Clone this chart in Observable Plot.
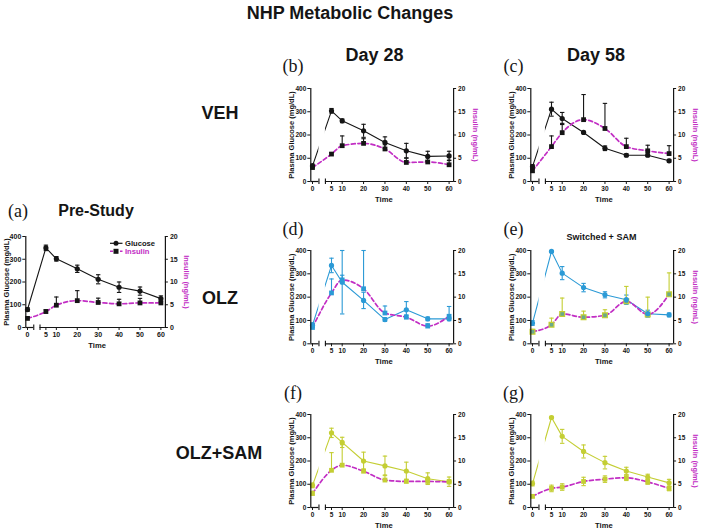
<!DOCTYPE html>
<html><head><meta charset="utf-8">
<script src="https://cdn.jsdelivr.net/npm/d3@7"></script>
<script src="https://cdn.jsdelivr.net/npm/@observablehq/plot@0.6"></script>
<style>
body{margin:0;background:#fff;}
#root{position:relative;width:701px;height:532px;overflow:hidden;font-family:"Liberation Sans",Arial,sans-serif;color:#151515;}
.lbl{position:absolute;white-space:nowrap;transform:translate(-50%,-50%);line-height:1;}
.b{font-weight:bold;}
.serif{font-family:"Liberation Serif","Times New Roman",serif;}
svg.pl{position:absolute;}
</style></head><body><div id="root"></div>
<script>
// ---- data ----
const times = [0, 5, 10, 20, 30, 40, 50, 60];
const glucoseTicks = [0, 100, 200, 300, 400];
const insulinTicks = [0, 5, 10, 15, 20];

// (a) Pre-Study
const preGlu    = [79, 350, 302, 258, 212, 177, 160, 127];
const preGluErr = [8, 12, 10, 16, 20, 23, 18, 12];
const preIns    = [2.0, 3.5, 4.9, 5.9, 5.5, 5.2, 5.4, 5.4];
const preInsErr = [0.3, 0.4, 1.8, 2.2, 0.95, 1.0, 1.0, 0.6];
// (b) VEH Day 28
const vehD28Glu    = [67, 304, 261, 218, 168, 132, 108, 110];
const vehD28GluErr = [8, 10, 8, 28, 24, 32, 22, 20];
const vehD28Ins    = [3.0, 5.9, 7.7, 8.2, 7.0, 4.1, 4.2, 3.6];
const vehD28InsErr = [0.4, 0.3, 2.1, 1.0, 0.9, 1.0, 0.3, 1.0];
// (c) VEH Day 58
const vehD58Glu    = [64, 311, 271, 211, 143, 113, 113, 89];
const vehD58GluErr = [8, 30, 26, 5, 10, 6, 6, 6];
const vehD58Ins    = [2.3, 7.5, 10.5, 13.3, 11.4, 7.5, 6.6, 6.0];
const vehD58InsErr = [0.4, 2.3, 2.0, 5.4, 5.4, 1.8, 1.2, 1.7];
// (d) OLZ Day 28
const olzD28Glu    = [80, 336, 264, 186, 104, 146, 107, 107];
const olzD28GluErr = [10, 31, 136, 35, 8, 35, 8, 8];
const olzD28Ins    = [3.5, 10.9, 13.7, 11.8, 6.6, 5.7, 3.8, 5.9];
const olzD28InsErr = [0.5, 3.0, 1.0, 8.2, 1.5, 0.5, 0.5, 2.1];
// (e) Switched + SAM Day 58
const swD58Glu    = [89, 396, 303, 241, 210, 189, 129, 124];
const swD58GluErr = [10, 4, 28, 18, 13, 20, 15, 8];
const swD58Ins    = [2.6, 4.1, 6.4, 5.7, 6.1, 9.1, 6.3, 10.6];
const swD58InsErr = [0.5, 1.4, 3.4, 1.3, 1.2, 3.2, 3.7, 4.6];
// (f) OLZ+SAM Day 28
const samD28Glu    = [95, 321, 280, 200, 179, 157, 124, 111];
const samD28GluErr = [10, 20, 22, 38, 42, 38, 25, 20];
const samD28Ins    = [3.0, 8.0, 9.1, 7.8, 5.9, 5.6, 5.6, 5.5];
const samD28InsErr = [0.5, 3.8, 4.4, 0.5, 1.1, 0.5, 0.5, 0.5];
// (g) OLZ+SAM Day 58
const samD58Glu    = [103, 387, 306, 241, 193, 157, 131, 106];
const samD58GluErr = [10, 5, 30, 28, 27, 16, 12, 15];
const samD58Ins    = [2.4, 4.1, 4.4, 5.6, 6.1, 6.4, 5.5, 4.1];
const samD58InsErr = [0.3, 0.7, 0.7, 0.9, 0.7, 0.6, 0.5, 0.5];

// ---- styles ----
const BLK = "#151515", MAG = "#c22ec4", BLUE = "#2b9ad6", YG = "#c4ce33", TEAL = "#6aa98c";
const FONT = "Liberation Sans, Arial, sans-serif";

const panels = [
  {x0:27.3, x5:45.7, x60:160.7, y0:327.3, y400:236.3, gap:false, glu:preGlu, gluErr:preGluErr, ins:preIns, insErr:preInsErr, gCol:BLK, iCol:BLK, iStroke:null, iErrCol:BLK, insBoth:false, rightLabel:true, fs:7},
  {x0:311.7, x5:330.7, x60:448.3, y0:180.7, y400:87.7, gap:true, glu:vehD28Glu, gluErr:vehD28GluErr, ins:vehD28Ins, insErr:vehD28InsErr, gCol:BLK, iCol:BLK, iStroke:null, iErrCol:BLK, insBoth:false, rightLabel:true, fs:6.5},
  {x0:531.7, x5:550.7, x60:668.3, y0:180.7, y400:87.7, gap:true, glu:vehD58Glu, gluErr:vehD58GluErr, ins:vehD58Ins, insErr:vehD58InsErr, gCol:BLK, iCol:BLK, iStroke:null, iErrCol:BLK, insBoth:false, rightLabel:true, fs:6.5},
  {x0:311.7, x5:330.7, x60:448.3, y0:343.3, y400:250, gap:true, glu:olzD28Glu, gluErr:olzD28GluErr, ins:olzD28Ins, insErr:olzD28InsErr, gCol:BLUE, iCol:BLUE, iStroke:null, iErrCol:BLUE, insBoth:false, rightLabel:false, fs:6.5},
  {x0:531.7, x5:550.7, x60:668.3, y0:343.3, y400:250, gap:true, glu:swD58Glu, gluErr:swD58GluErr, ins:swD58Ins, insErr:swD58InsErr, gCol:BLUE, iCol:TEAL, iStroke:YG, iErrCol:YG, insBoth:false, rightLabel:true, fs:6.5},
  {x0:311.7, x5:330.7, x60:448.3, y0:507.3, y400:414.3, gap:true, glu:samD28Glu, gluErr:samD28GluErr, ins:samD28Ins, insErr:samD28InsErr, gCol:YG, iCol:YG, iStroke:null, iErrCol:YG, insBoth:false, rightLabel:false, fs:6.5},
  {x0:531.7, x5:550.7, x60:668.3, y0:507.3, y400:414.3, gap:true, glu:samD58Glu, gluErr:samD58GluErr, ins:samD58Ins, insErr:samD58InsErr, gCol:YG, iCol:YG, iStroke:null, iErrCol:YG, insBoth:true, rightLabel:true, fs:6.5},
];

const root = document.getElementById("root");
const cap = {draw(ctx, size){ const r = Math.sqrt(size/Math.PI); ctx.moveTo(-r,0); ctx.lineTo(r,0); }};

function makePanel(p) {
  const left = 54, top = 12, W = 220, H = 135;
  const sx1 = (p.x5 - p.x0) / 5, sx2 = (p.x60 - p.x5) / 55, sy = (p.y0 - p.y400) / 400;
  const xAxisL = -1.7 / sx1, xAxisR = 60 + 4.5 / sx2;
  const brA = 1.7, brB = 3.4, tl = 3;
  const rows = times.map((t, k) => ({t, g: p.glu[k], ge: p.gluErr[k], i: p.ins[k] * 20, ie: p.insErr[k] * 20}));
  const txt = {fontSize: p.fs, fontWeight: "bold", fill: BLK, fontFamily: FONT};
  const marks = [
    Plot.line(rows, {x: "t", y: "g", stroke: p.gCol, strokeWidth: 1.1})
  ];
  if (p.gap) marks.push(Plot.rect([{a: brA, b: brB}], {x1: "a", x2: "b", y1: 2 / sy, y2: 405, fill: "white"}));
  marks.push(
    Plot.line(rows, {x: "t", y: "i", stroke: MAG, strokeWidth: 1.7, strokeDasharray: "4,2.6", curve: "monotone-x"}),
    // glucose error bars
    Plot.ruleX(rows, {x: "t", y1: d => d.g - d.ge, y2: d => d.g + d.ge, stroke: p.gCol, strokeWidth: 1.1}),
    Plot.dot(rows, {x: "t", y: d => d.g + d.ge, symbol: cap, r: 2.2, fill: "none", stroke: p.gCol, strokeWidth: 1.1}),
    Plot.dot(rows, {x: "t", y: d => d.g - d.ge, symbol: cap, r: 2.2, fill: "none", stroke: p.gCol, strokeWidth: 1.1}),
    // insulin error bars
    Plot.ruleX(rows, {x: "t", y1: d => p.insBoth ? d.i - d.ie : d.i, y2: d => d.i + d.ie, stroke: p.iErrCol, strokeWidth: 1.1}),
    Plot.dot(rows, {x: "t", y: d => d.i + d.ie, symbol: cap, r: 2.2, fill: "none", stroke: p.iErrCol, strokeWidth: 1.1}),
  );
  if (p.insBoth) marks.push(Plot.dot(rows, {x: "t", y: d => d.i - d.ie, symbol: cap, r: 2.2, fill: "none", stroke: p.iErrCol, strokeWidth: 1.1}));
  marks.push(
    Plot.dot(rows, {x: "t", y: "i", symbol: "square", r: 2.7, fill: p.iCol, stroke: p.iStroke || "none", strokeWidth: 1.2}),
    Plot.dot(rows, {x: "t", y: "g", r: 2.6, fill: p.gCol}),
    // axes
    Plot.ruleX([xAxisL, xAxisR], {x: d => d, y1: 0, y2: 400, stroke: BLK, strokeWidth: 1.2}),
    Plot.ruleY([{a: xAxisL, b: brA}, {a: brB, b: xAxisR}], {y: 0, x1: "a", x2: "b", stroke: BLK, strokeWidth: 1.2}),
    Plot.ruleX([brA, brB], {x: d => d, y1: -tl / sy, y2: 2.5 / sy, stroke: BLK, strokeWidth: 1.1}),
    Plot.ruleX(times, {x: d => d, y1: 0, y2: -tl / sy, stroke: BLK, strokeWidth: 1}),
    Plot.text(times, {x: d => d, y: 0, dy: tl + 4.2, text: d => String(d), ...txt}),
    Plot.ruleY(glucoseTicks, {y: d => d, x1: xAxisL, x2: xAxisL - tl / sx1, stroke: BLK, strokeWidth: 1}),
    Plot.text(glucoseTicks, {x: xAxisL, y: d => d, dx: -(tl + 1.5), textAnchor: "end", text: d => String(d), ...txt}),
    Plot.ruleY(insulinTicks, {y: d => d * 20, x1: xAxisR, x2: xAxisR + tl / sx2, stroke: BLK, strokeWidth: 1}),
    Plot.text(insulinTicks, {x: xAxisR, y: d => d * 20, dx: tl + 1.5, textAnchor: "start", text: d => String(d), ...txt}),
    Plot.text(["Time"], {x: 29.5, y: 0, dy: 17.6, text: d => d, ...txt, fontSize: 7.6}),
    Plot.text(["Plasma Glucose (mg/dL)"], {x: xAxisL, y: 200, dx: -19.5, rotate: -90, text: d => d, ...txt, fontSize: 7.5})
  );
  if (p.rightLabel) marks.push(Plot.text(["Insulin (ng/mL)"], {x: xAxisR, y: 200, dx: 21.5, rotate: 90, text: d => d, ...txt, fontSize: 7.5, fill: MAG}));
  const svg = Plot.plot({
    width: W, height: H,
    style: {background: "transparent", overflow: "visible", fontFamily: FONT},
    x: {type: "linear", domain: [0, 5, 60], range: [left, left + 5 * sx1, left + 5 * sx1 + 55 * sx2], axis: null},
    y: {type: "linear", domain: [0, 400], range: [top + 400 * sy, top], axis: null},
    marks
  });
  svg.classList.add("pl");
  svg.style.left = (p.x0 - left) + "px";
  svg.style.top = (p.y400 - top) + "px";
  svg.style.maxWidth = "none";
  root.appendChild(svg);
}
panels.forEach(makePanel);

// ---- text labels ----
function label(text, x, y, size, cls, color) {
  const d = document.createElement("div");
  d.className = "lbl " + cls;
  d.textContent = text;
  d.style.left = x + "px"; d.style.top = y + "px"; d.style.fontSize = size + "px";
  if (color) d.style.color = color;
  root.appendChild(d);
}
label("NHP Metabolic Changes", 350, 12.5, 18, "b");
label("Day 28", 374.5, 54.5, 18, "b");
label("Day 58", 596, 54.5, 18, "b");
label("(b)", 293, 66, 18, "serif");
label("(c)", 513.5, 66, 18, "serif");
label("(a)", 18, 211, 18, "serif");
label("Pre-Study", 96, 211, 16, "b");
label("(d)", 293, 229, 18, "serif");
label("(e)", 513.5, 229, 18, "serif");
label("Switched + SAM", 601.5, 236.5, 9, "b");
label("(f)", 293, 393, 18, "serif");
label("(g)", 513.5, 393, 18, "serif");
label("VEH", 220, 113, 18, "b");
label("OLZ", 220, 298, 18, "b");
label("OLZ+SAM", 219, 453, 18, "b");

// legend for panel (a)
const NS = "http://www.w3.org/2000/svg";
const lg = document.createElementNS(NS, "svg");
lg.setAttribute("width", 60); lg.setAttribute("height", 20);
lg.style.position = "absolute"; lg.style.left = "105px"; lg.style.top = "237px";
lg.innerHTML =
  `<line x1="5" y1="6.3" x2="17.5" y2="6.3" stroke="${BLK}" stroke-width="1.2"/>` +
  `<circle cx="11" cy="6.3" r="2.5" fill="${BLK}"/>` +
  `<text x="20" y="8.9" font-size="7.6" font-weight="bold" font-family="${FONT}" fill="${BLK}">Glucose</text>` +
  `<line x1="5" y1="14.3" x2="17.5" y2="14.3" stroke="${MAG}" stroke-width="1.6" stroke-dasharray="3,2"/>` +
  `<rect x="8.5" y="11.8" width="5" height="5" fill="${BLK}"/>` +
  `<text x="20" y="16.9" font-size="7.6" font-weight="bold" font-family="${FONT}" fill="${MAG}">Insulin</text>`;
root.appendChild(lg);
</script></body></html>
